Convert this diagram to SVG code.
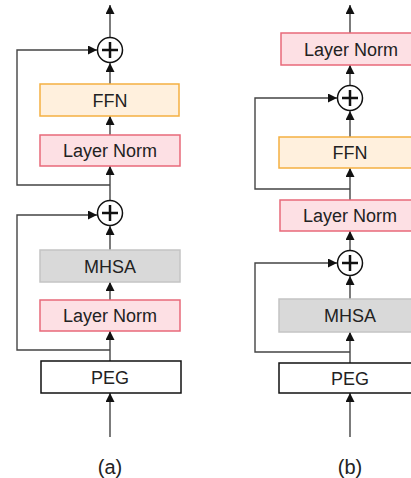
<svg xmlns="http://www.w3.org/2000/svg" width="411" height="478" viewBox="0 0 411 478">
<style>
text{font-family:"Liberation Sans",Arial,sans-serif;font-size:18px;fill:#222;text-anchor:middle}
.lbl{font-size:20px}
.ln{fill:#fde0e4;stroke:#e8697a;stroke-width:1.5}
.ffn{fill:#fff0dd;stroke:#f5b041;stroke-width:1.5}
.mh{fill:#d9d9d9;stroke:#c4c4c4;stroke-width:1.5}
.peg{fill:#fff;stroke:#111;stroke-width:1.5}
.c{fill:#fff;stroke:#111;stroke-width:1.5}
.p{stroke:#111;stroke-width:2.5;fill:none}
.e{stroke:#444;stroke-width:1.4;fill:none}
.a{marker-end:url(#ah)}
</style>
<defs>
<marker id="ah" viewBox="0 0 10 10" refX="10" refY="5" markerWidth="10" markerHeight="9" markerUnits="userSpaceOnUse" orient="auto">
<path d="M0,0 L10,5 L0,10 z" fill="#111"/>
</marker>
</defs>
<g id="connectors">
<path class="e a" d="M110,37 V5"/>
<path class="e a" d="M110,84 V63"/>
<path class="e a" d="M110,135 V116"/>
<path class="e a" d="M110,200 V166"/>
<path class="e a" d="M110,185 H17 V50 H97"/>
<path class="e a" d="M110,250 V226"/>
<path class="e a" d="M110,300 V282"/>
<path class="e a" d="M110,361 V331"/>
<path class="e a" d="M110,350 H17 V215 H97"/>
<path class="e a" d="M110,437 V393"/>
<path class="e a" d="M350,33 V5"/>
<path class="e a" d="M350,85 V65"/>
<path class="e a" d="M350,137 V111"/>
<path class="e a" d="M350,189 H255 V98 H337"/>
<path class="e a" d="M350,200 V168"/>
<path class="e a" d="M350,250 V231"/>
<path class="e a" d="M350,299 V276"/>
<path class="e a" d="M350,363 V332"/>
<path class="e a" d="M350,352 H255 V263 H337"/>
<path class="e a" d="M350,437 V393"/>
</g>
<g id="a_add2"><circle class="c" cx="110" cy="50" r="12.5"/><path class="p" d="M102,50 H118 M110,42 V58"/></g>
<g id="a_ffn"><rect class="ffn" x="40" y="84" width="139" height="32"/><text x="110" y="106.5">FFN</text></g>
<g id="a_ln2"><rect class="ln" x="40" y="135" width="140" height="31"/><text x="110" y="157">Layer Norm</text></g>
<g id="a_add1"><circle class="c" cx="110" cy="213" r="12.5"/><path class="p" d="M102,213 H118 M110,205 V221"/></g>
<g id="a_mhsa"><rect class="mh" x="40" y="250" width="140" height="32"/><text x="110" y="272.5">MHSA</text></g>
<g id="a_ln1"><rect class="ln" x="40" y="300" width="140" height="31"/><text x="110" y="322">Layer Norm</text></g>
<g id="a_peg"><rect class="peg" x="41" y="361" width="140" height="32"/><text x="110" y="383.5">PEG</text></g>
<text id="label_a" class="lbl" x="110" y="474">(a)</text>
<g id="b_ln3"><rect class="ln" x="281" y="33" width="140" height="32"/><text x="351" y="55.5">Layer Norm</text></g>
<g id="b_add2"><circle class="c" cx="350" cy="98" r="12.5"/><path class="p" d="M342,98 H358 M350,90 V106"/></g>
<g id="b_ffn"><rect class="ffn" x="279" y="137" width="140" height="31"/><text x="350" y="159">FFN</text></g>
<g id="b_ln2"><rect class="ln" x="280" y="200" width="140" height="31"/><text x="350" y="222">Layer Norm</text></g>
<g id="b_add1"><circle class="c" cx="350" cy="263" r="12.5"/><path class="p" d="M342,263 H358 M350,255 V271"/></g>
<g id="b_mhsa"><rect class="mh" x="279" y="299" width="140" height="33"/><text x="350" y="322">MHSA</text></g>
<g id="b_peg"><rect class="peg" x="279" y="363" width="140" height="30"/><text x="350" y="384.5">PEG</text></g>
<text id="label_b" class="lbl" x="350" y="474">(b)</text>
</svg>
